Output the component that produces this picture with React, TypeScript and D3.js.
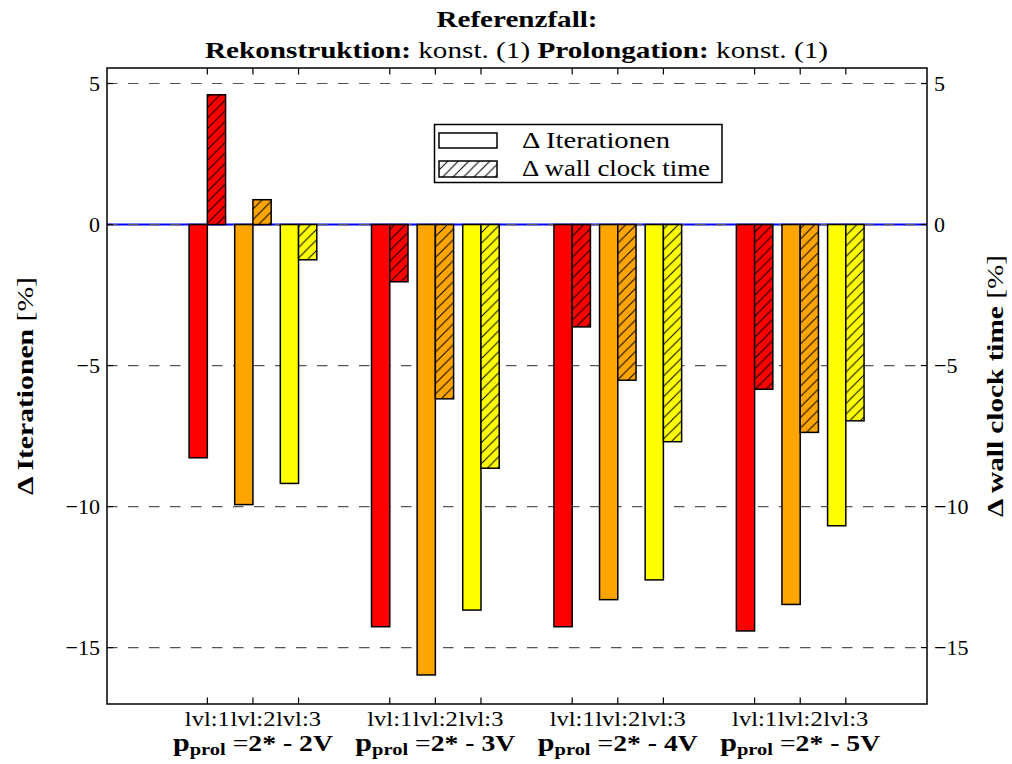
import React from "react";
import * as d3 from "d3";

// Relative change against the reference case, per prolongation setting and level
const groupLabels = ["2V", "3V", "4V", "5V"];
const levelLabels = ["lvl:1", "lvl:2", "lvl:3"];
const levelColors = ["#ff0000", "#ffa500", "#ffff00"];

// Δ Iterationen [%]  (rows: groups, cols: levels)
const iterationDelta = [
  [-8.27, -9.93, -9.18],
  [-14.26, -15.97, -13.67],
  [-14.26, -13.3, -12.6],
  [-14.41, -13.47, -10.68],
];

// Δ wall clock time [%]
const wallClockDelta = [
  [4.6, 0.88, -1.25],
  [-2.03, -6.18, -8.64],
  [-3.63, -5.52, -7.7],
  [-5.84, -7.37, -6.96],
];

const yTicks = [-15, -10, -5, 0, 5];

const W = 1012;
const H = 764;
const frame = { left: 107, right: 927, top: 68, bottom: 704 };
const FONT = "'Liberation Serif', 'DejaVu Serif', serif";

export default function App() {
  const x = d3.scaleLinear().domain([-2.2, 15.78]).range([frame.left, frame.right]);
  const y = d3.scaleLinear().domain([-17, 5.55]).range([frame.bottom, frame.top]);
  const barW = x(0.4) - x(0);
  const pos = (g: number, j: number) => 4 * g + j;
  const midY = (frame.top + frame.bottom) / 2;

  const tickPositions: { g: number; j: number }[] = [];
  groupLabels.forEach((_, g) => levelLabels.forEach((__, j) => tickPositions.push({ g, j })));

  const barRect = (xl: number, v: number) => ({
    x: xl,
    y: Math.min(y(v), y(0)),
    width: barW,
    height: Math.abs(y(v) - y(0)),
  });

  return (
    <svg
      width={W}
      height={H}
      style={{ position: "absolute", left: 0, top: 0, background: "#fff" }}
      fontFamily={FONT}
    >
      <defs>
        <pattern id="hatch" patternUnits="userSpaceOnUse" width={10.5} height={10.5}>
          <path
            d="M0,10.5 L10.5,0 M-2,2 L2,-2 M8.5,12.5 L12.5,8.5"
            stroke="#000"
            strokeWidth={1}
          />
        </pattern>
        <clipPath id="plotClip">
          <rect x={frame.left} y={frame.top} width={frame.right - frame.left} height={frame.bottom - frame.top} />
        </clipPath>
      </defs>

      {/* zero reference line */}
      <line x1={frame.left} x2={frame.right} y1={y(0)} y2={y(0)} stroke="#0000ff" strokeWidth={2} />

      {/* horizontal dashed grid */}
      {yTicks.map((t) => (
        <line
          key={`g${t}`}
          x1={frame.left}
          x2={frame.right}
          y1={y(t)}
          y2={y(t)}
          stroke="#555"
          strokeWidth={1.2}
          strokeDasharray="10.5,10.5"
        />
      ))}

      {/* bars */}
      <g clipPath="url(#plotClip)">
        {groupLabels.map((_, g) =>
          levelLabels.map((__, j) => {
            const cx = x(pos(g, j));
            const it = barRect(cx - barW, iterationDelta[g][j]);
            const wc = barRect(cx, wallClockDelta[g][j]);
            return (
              <g key={`b${g}-${j}`}>
                <rect {...it} fill={levelColors[j]} stroke="#000" strokeWidth={1.5} />
                <rect {...wc} fill={levelColors[j]} />
                <rect {...wc} fill="url(#hatch)" stroke="#000" strokeWidth={1.5} />
              </g>
            );
          })
        )}
      </g>

      {/* frame */}
      <rect
        x={frame.left}
        y={frame.top}
        width={frame.right - frame.left}
        height={frame.bottom - frame.top}
        fill="none"
        stroke="#000"
        strokeWidth={1.5}
      />

      {/* x ticks, top and bottom, pointing inward */}
      {tickPositions.map(({ g, j }) => {
        const tx = x(pos(g, j));
        return (
          <g key={`xt${g}-${j}`}>
            <line x1={tx} x2={tx} y1={frame.bottom} y2={frame.bottom - 6.5} stroke="#000" strokeWidth={1.2} />
            <line x1={tx} x2={tx} y1={frame.top} y2={frame.top + 6.5} stroke="#000" strokeWidth={1.2} />
            <text x={tx} y={726} textAnchor="middle" fontSize={21} textLength={45} lengthAdjust="spacingAndGlyphs">
              {levelLabels[j]}
            </text>
          </g>
        );
      })}

      {/* group labels */}
      {groupLabels.map((gl, g) => (
        <text
          key={`gl${g}`}
          x={x(pos(g, 1))}
          y={751}
          textAnchor="middle"
          fontSize={23}
          textLength={160}
          lengthAdjust="spacingAndGlyphs"
        >
          <tspan fontWeight="bold" fontSize={25}>p</tspan>
          <tspan fontWeight="bold" fontSize={17} dy={4}>prol</tspan>
          <tspan dy={-4}> =</tspan>
          <tspan fontWeight="bold">{`2* - ${gl}`}</tspan>
        </text>
      ))}

      {/* y ticks, left and right */}
      {yTicks.map((t) => {
        const ty = y(t);
        const label = t < 0 ? `\u2212${Math.abs(t)}` : `${t}`;
        return (
          <g key={`yt${t}`}>
            <line x1={frame.left} x2={frame.left + 6} y1={ty} y2={ty} stroke="#000" strokeWidth={1.2} />
            <line x1={frame.right} x2={frame.right - 6} y1={ty} y2={ty} stroke="#000" strokeWidth={1.2} />
            <text x={100} y={ty + 7.5} textAnchor="end" fontSize={22}>
              {label}
            </text>
            <text x={934} y={ty + 7.5} textAnchor="start" fontSize={22}>
              {label}
            </text>
          </g>
        );
      })}

      {/* axis titles */}
      <text
        transform={`translate(33, ${midY}) rotate(-90)`}
        textAnchor="middle"
        fontSize={24}
        textLength={218}
        lengthAdjust="spacingAndGlyphs"
      >
        <tspan fontWeight="bold">Δ Iterationen</tspan>
        <tspan> [%]</tspan>
      </text>
      <text
        transform={`translate(1003, ${midY}) rotate(-90)`}
        textAnchor="middle"
        fontSize={24}
        textLength={262}
        lengthAdjust="spacingAndGlyphs"
      >
        <tspan fontWeight="bold">Δ wall clock time</tspan>
        <tspan> [%]</tspan>
      </text>

      {/* title */}
      <text x={517} y={27} textAnchor="middle" fontSize={24} fontWeight="bold" textLength={161} lengthAdjust="spacingAndGlyphs">
        Referenzfall:
      </text>
      <text x={516.5} y={58} textAnchor="middle" fontSize={24} textLength={623} lengthAdjust="spacingAndGlyphs">
        <tspan fontWeight="bold">Rekonstruktion:</tspan>
        <tspan> konst. (1) </tspan>
        <tspan fontWeight="bold">Prolongation:</tspan>
        <tspan> konst. (1)</tspan>
      </text>

      {/* legend */}
      <g>
        <rect x={434.5} y={124.5} width={287.5} height={58} fill="#fff" stroke="#000" strokeWidth={1.5} />
        <rect x={439} y={133} width={58} height={15} fill="#fff" stroke="#000" strokeWidth={1.5} />
        <rect x={439} y={161} width={58} height={16} fill="url(#hatch)" stroke="#000" strokeWidth={1.5} />
        <text x={522} y={148} fontSize={23} textLength={148} lengthAdjust="spacingAndGlyphs">
          Δ Iterationen
        </text>
        <text x={522} y={176} fontSize={23} textLength={188} lengthAdjust="spacingAndGlyphs">
          Δ wall clock time
        </text>
      </g>
    </svg>
  );
}
